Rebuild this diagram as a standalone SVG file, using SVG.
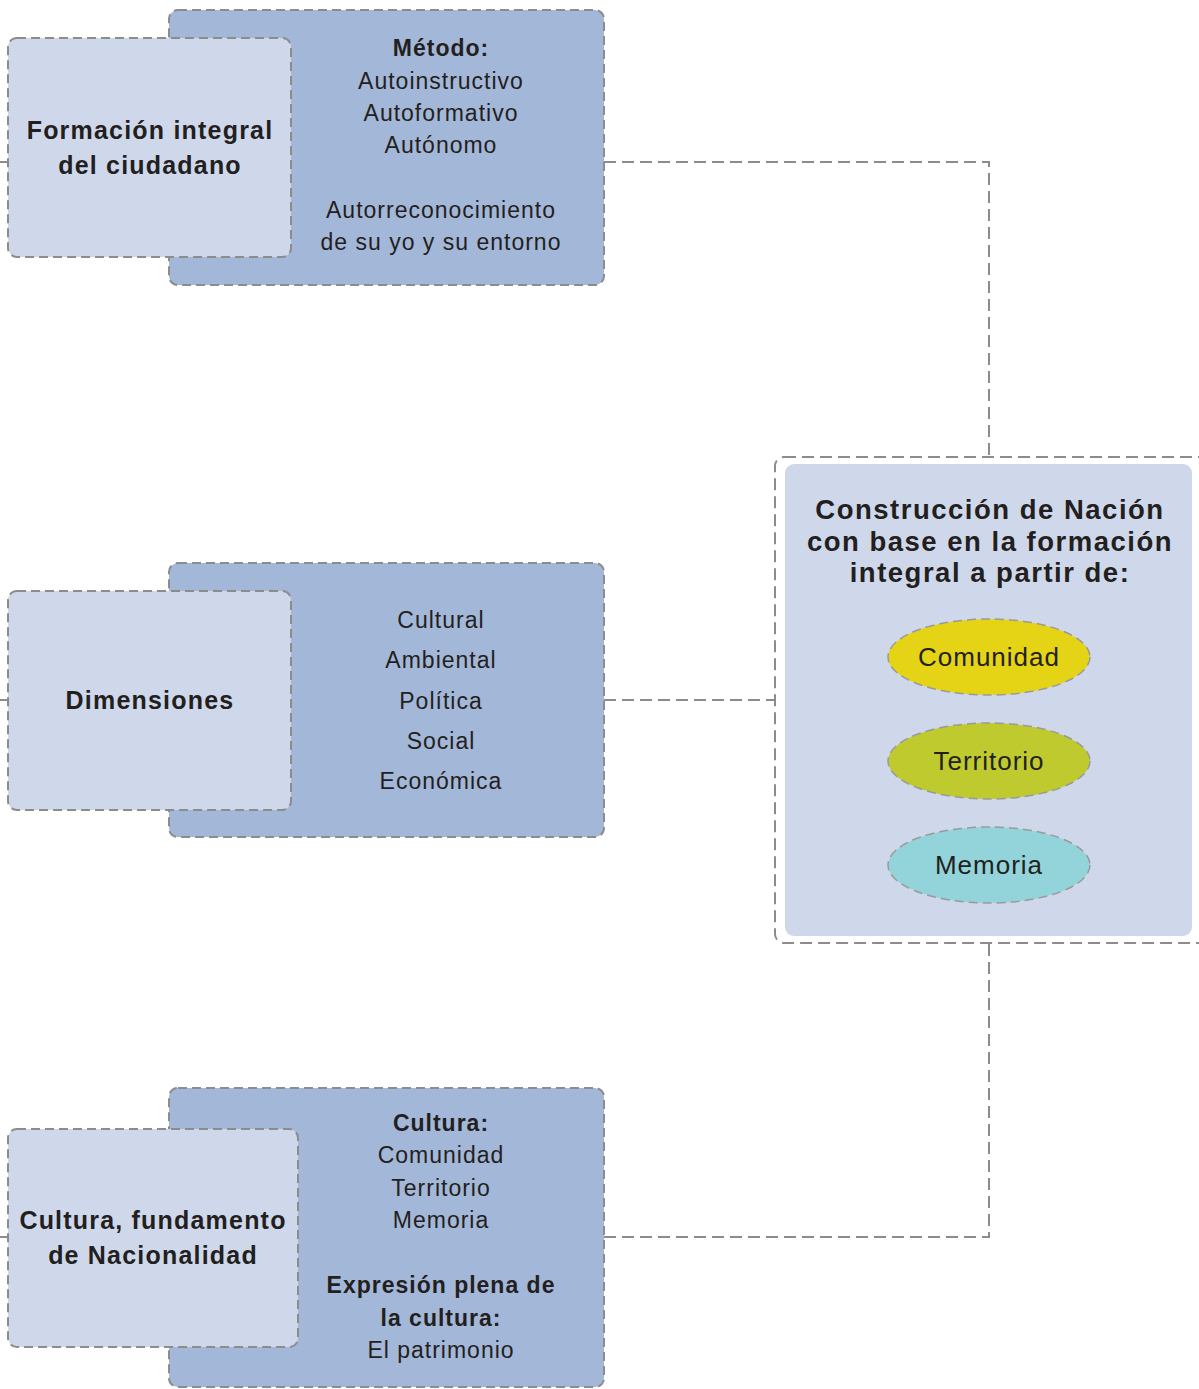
<svg xmlns="http://www.w3.org/2000/svg" width="1199" height="1389" viewBox="0 0 1199 1389">
<style>
.dark{fill:#a3b7d8;stroke:#8c8c8c;stroke-width:2;stroke-dasharray:9 5}
.light{fill:#cfd8ea;stroke:#8c8c8c;stroke-width:2;stroke-dasharray:9 5}
.conn{fill:none;stroke:#8c8c8c;stroke-width:2;stroke-dasharray:12 6}
.ell{stroke:#9a9a9a;stroke-width:1.5;stroke-dasharray:9 5}
text{font-family:"Liberation Sans",Arial,sans-serif;fill:#231f20;text-anchor:middle}
.b{font-weight:bold;font-size:25px;letter-spacing:1.2px}
.n{font-size:23px;letter-spacing:1px}
.t{font-weight:bold;font-size:27.5px;letter-spacing:1.5px}
.e{font-size:26px;letter-spacing:1px}
</style>
<rect width="1199" height="1389" fill="#ffffff"/>
<g id="connectors">
<path class="conn" d="M604 162 H989 V457"/>
<path class="conn" d="M604 700 H775"/>
<path class="conn" d="M604 1237 H989 V943"/>
<path d="M0 162 H8 M0 700 H8 M0 1237 H8" stroke="#8c8c8c" stroke-width="2"/>
</g>
<g id="node-formacion">
<rect class="dark" x="169" y="10" width="435" height="275" rx="9"/>
<rect class="light" x="8" y="38" width="283" height="219" rx="9"/>
<text class="b" x="150" y="139">Formación integral</text>
<text class="b" x="150" y="174">del ciudadano</text>
<text class="n" x="441" y="56" font-weight="bold">Método:</text>
<text class="n" x="441" y="89">Autoinstructivo</text>
<text class="n" x="441" y="121">Autoformativo</text>
<text class="n" x="441" y="153">Autónomo</text>
<text class="n" x="441" y="218">Autorreconocimiento</text>
<text class="n" x="441" y="250">de su yo y su entorno</text>
</g>
<g id="node-dimensiones">
<rect class="dark" x="169" y="563" width="435" height="274" rx="9"/>
<rect class="light" x="8" y="591" width="283" height="219" rx="9"/>
<text class="b" x="150" y="709">Dimensiones</text>
<text class="n" x="441" y="628">Cultural</text>
<text class="n" x="441" y="668">Ambiental</text>
<text class="n" x="441" y="709">Política</text>
<text class="n" x="441" y="749">Social</text>
<text class="n" x="441" y="789">Económica</text>
</g>
<g id="node-cultura">
<rect class="dark" x="169" y="1088" width="435" height="299" rx="9"/>
<rect class="light" x="8" y="1129" width="290" height="218" rx="9"/>
<text class="b" x="153" y="1229">Cultura, fundamento</text>
<text class="b" x="153" y="1264">de Nacionalidad</text>
<text class="n" x="441" y="1131" font-weight="bold">Cultura:</text>
<text class="n" x="441" y="1163">Comunidad</text>
<text class="n" x="441" y="1196">Territorio</text>
<text class="n" x="441" y="1228">Memoria</text>
<text class="n" x="441" y="1293" font-weight="bold">Expresión plena de</text>
<text class="n" x="441" y="1326" font-weight="bold">la cultura:</text>
<text class="n" x="441" y="1358">El patrimonio</text>
</g>
<g id="node-nacion">
<rect x="775" y="457" width="432" height="486" rx="9" fill="#ffffff" stroke="#8c8c8c" stroke-width="2" stroke-dasharray="12 6"/>
<rect x="785" y="464" width="407" height="472" rx="9" fill="#cfd8ea"/>
<text class="t" x="990" y="519">Construcción de Nación</text>
<text class="t" x="990" y="551">con base en la formación</text>
<text class="t" x="990" y="582">integral a partir de:</text>
<ellipse class="ell" cx="989" cy="657" rx="101" ry="38" fill="#e5d316"/>
<text class="e" x="989" y="666">Comunidad</text>
<ellipse class="ell" cx="989" cy="761" rx="101" ry="38" fill="#bfca2e"/>
<text class="e" x="989" y="770">Territorio</text>
<ellipse class="ell" cx="989" cy="865" rx="101" ry="38" fill="#93d4da"/>
<text class="e" x="989" y="874">Memoria</text>
</g>
</svg>
